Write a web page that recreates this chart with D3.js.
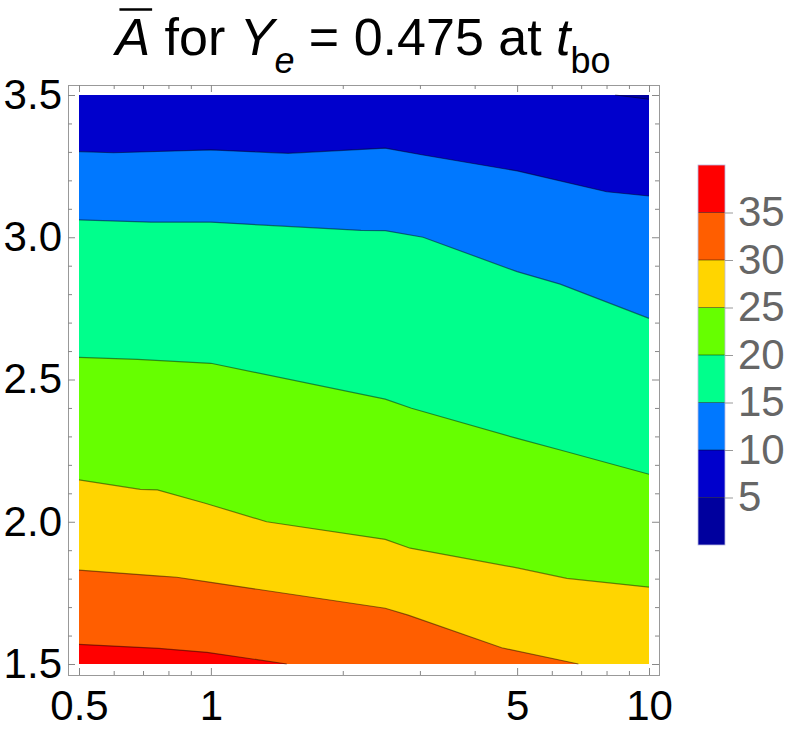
<!DOCTYPE html>
<html>
<head>
<meta charset="utf-8">
<script src="https://cdn.jsdelivr.net/npm/d3@7"></script>
<style>
  body { margin: 0; background: #fff; }
  svg { display: block; font-family: "Liberation Sans", Arial, sans-serif; }
</style>
</head>
<body>
<svg id="chart" width="789" height="734"></svg>
<script>
// niveles de contorno y colores de cada banda (0-5, 5-10, ... 35-40)
const levels = [5, 10, 15, 20, 25, 30, 35];
const bandColors = ["#00009e", "#0000cc", "#0078ff", "#00ff8c", "#66ff00", "#ffd500", "#ff5e00", "#ff0000"];
const xLabels = [0.5, 1, 5, 10];
const yLabels = [1.5, 2.0, 2.5, 3.0, 3.5];
const legendTicks = [5, 10, 15, 20, 25, 30, 35];

// curvas de nivel: [x, y]
const contour5 = [[8.37, 3.5], [10, 3.485]];
const contour10 = [[0.5, 3.301], [0.6, 3.297], [1.0, 3.307], [1.5, 3.295], [2.5, 3.313], [3.05, 3.289], [5, 3.233], [8, 3.160], [10, 3.145]];
const contour15 = [[0.5, 3.061], [0.73, 3.053], [1.0, 3.053], [1.42, 3.040], [2.2, 3.024], [2.5, 3.023], [3.05, 3.000], [5, 2.879], [6.27, 2.835], [10, 2.715]];
const contour20 = [[0.5, 2.578], [0.68, 2.571], [1.0, 2.557], [2.5, 2.431], [2.87, 2.399], [5, 2.293], [6.49, 2.246], [10, 2.167]];
const contour25 = [[0.5, 2.147], [0.69, 2.114], [0.755, 2.112], [0.97, 2.065], [1.0, 2.059], [1.34, 2.000], [2.5, 1.938], [2.85, 1.907], [5, 1.838], [6.49, 1.801], [10, 1.770]];
const contour30 = [[0.5, 1.830], [0.752, 1.810], [0.836, 1.805], [1.0, 1.787], [2.5, 1.696], [2.82, 1.672], [4.61, 1.557], [6.9, 1.5]];
const contour35 = [[0.5, 1.569], [0.76, 1.555], [0.98, 1.541], [1.49, 1.5]];

const contours = [contour5, contour10, contour15, contour20, contour25, contour30, contour35];

const svg = d3.select("#chart");
const frame = { left: 68, right: 659, top: 85, bottom: 675 };

const x = d3.scaleLog().domain([0.5, 10]).range([79, 649]);
const y = d3.scaleLinear().domain([1.5, 3.5]).range([664, 95]);
const [xMin, xMax] = x.domain();
const [yMin, yMax] = y.domain();

// fondo: banda 5-10
svg.append("rect")
    .attr("x", x(xMin)).attr("y", y(yMax))
    .attr("width", x(xMax) - x(xMin)).attr("height", y(yMin) - y(yMax))
    .attr("fill", bandColors[1]);

const areaAbove = d3.area().x(d => x(d[0])).y0(y(yMax)).y1(d => y(d[1]));
const areaBelow = d3.area().x(d => x(d[0])).y0(y(yMin)).y1(d => y(d[1]));

const gFill = svg.append("g");
// nivel 5: la zona azul oscuro queda por encima
gFill.append("path").attr("d", areaAbove(contour5)).attr("fill", bandColors[0]);
contours.forEach((c, i) => {
    if (i === 0) return;
    gFill.append("path").attr("d", areaBelow(c)).attr("fill", bandColors[i + 1]);
});

const line = d3.line().x(d => x(d[0])).y(d => y(d[1]));
svg.append("g")
    .selectAll("path")
    .data(contours)
    .join("path")
    .attr("d", line)
    .attr("fill", "none")
    .attr("stroke", "#000")
    .attr("stroke-opacity", 0.45)
    .attr("stroke-width", 1.2);

// marco
svg.append("rect")
    .attr("x", frame.left + 0.5).attr("y", frame.top + 0.5)
    .attr("width", frame.right - frame.left).attr("height", frame.bottom - frame.top)
    .attr("fill", "none").attr("stroke", "#999");

function styleAxis(g) {
    g.select(".domain").remove();
    g.selectAll(".tick line").attr("stroke", "#888");
    g.selectAll(".tick text").attr("fill", "#000").attr("font-size", 42);
}

const xMinor = x.ticks().filter(v => !xLabels.includes(v));
const yMinor = y.ticks(20).filter(v => !yLabels.some(l => Math.abs(l - v) < 1e-9));

// ejes inferior / superior
svg.append("g").attr("transform", `translate(0,${frame.bottom})`)
    .call(d3.axisBottom(x).tickValues(xMinor).tickSize(-4).tickFormat(""))
    .call(styleAxis);
svg.append("g").attr("transform", `translate(0,${frame.bottom})`)
    .call(d3.axisBottom(x).tickValues(xLabels).tickSize(-7).tickPadding(15).tickFormat(d3.format("")))
    .call(styleAxis);
svg.append("g").attr("transform", `translate(0,${frame.top})`)
    .call(d3.axisTop(x).tickValues(xMinor).tickSize(-4).tickFormat(""))
    .call(styleAxis);
svg.append("g").attr("transform", `translate(0,${frame.top})`)
    .call(d3.axisTop(x).tickValues(xLabels).tickSize(-7).tickFormat(""))
    .call(styleAxis);

// ejes izquierdo / derecho
svg.append("g").attr("transform", `translate(${frame.left},0)`)
    .call(d3.axisLeft(y).tickValues(yMinor).tickSize(-4).tickFormat(""))
    .call(styleAxis);
svg.append("g").attr("transform", `translate(${frame.left},0)`)
    .call(d3.axisLeft(y).tickValues(yLabels).tickSize(-7).tickPadding(6).tickFormat(d3.format(".1f")))
    .call(styleAxis);
svg.append("g").attr("transform", `translate(${frame.right},0)`)
    .call(d3.axisRight(y).tickValues(yMinor).tickSize(-4).tickFormat(""))
    .call(styleAxis);
svg.append("g").attr("transform", `translate(${frame.right},0)`)
    .call(d3.axisRight(y).tickValues(yLabels).tickSize(-7).tickFormat(""))
    .call(styleAxis);

// titulo
const title = svg.append("text")
    .attr("x", 363).attr("y", 55)
    .attr("text-anchor", "middle")
    .attr("font-size", 52)
    .attr("fill", "#000");
title.append("tspan").attr("font-style", "italic").text("A");
title.append("tspan").text(" for ");
title.append("tspan").attr("font-style", "italic").text("Y");
title.append("tspan").attr("font-style", "italic").attr("font-size", 36).attr("dy", 18).text("e");
title.append("tspan").attr("dy", -18).text(" = 0.475 at ");
title.append("tspan").attr("font-style", "italic").text("t");
title.append("tspan").attr("font-size", 36).attr("dy", 18).text("bo");

const ext = title.node().getExtentOfChar(0);
svg.append("line")
    .attr("x1", ext.x + 4).attr("x2", ext.x + ext.width + 2)
    .attr("y1", 9.5).attr("y2", 9.5)
    .attr("stroke", "#000").attr("stroke-width", 2.6);

// leyenda de barra de color
const legendX = 698, legendW = 27;
const cb = d3.scaleLinear().domain([0, 40]).range([545, 165]);
const bands = bandColors.map((c, i) => ({ lo: i * 5, hi: (i + 1) * 5, color: c }));
const gLeg = svg.append("g");
gLeg.selectAll("rect")
    .data(bands)
    .join("rect")
    .attr("x", legendX)
    .attr("y", d => cb(d.hi))
    .attr("width", legendW)
    .attr("height", d => cb(d.lo) - cb(d.hi))
    .attr("fill", d => d.color);
gLeg.selectAll("line.sep")
    .data(levels)
    .join("line")
    .attr("class", "sep")
    .attr("x1", legendX).attr("x2", legendX + legendW)
    .attr("y1", d => cb(d)).attr("y2", d => cb(d))
    .attr("stroke", "#000").attr("stroke-opacity", 0.45);
gLeg.append("rect")
    .attr("x", legendX).attr("y", cb(40))
    .attr("width", legendW).attr("height", cb(0) - cb(40))
    .attr("fill", "none").attr("stroke", "#b8b8e0").attr("stroke-width", 0.8);

svg.append("g").attr("transform", `translate(${legendX + legendW},0)`)
    .call(d3.axisRight(cb).tickValues(legendTicks).tickSize(8).tickPadding(5))
    .call(g => {
        g.select(".domain").remove();
        g.selectAll(".tick line").attr("stroke", "#999");
        g.selectAll(".tick text").attr("fill", "#666").attr("font-size", 42);
    });
</script>
</body>
</html>
